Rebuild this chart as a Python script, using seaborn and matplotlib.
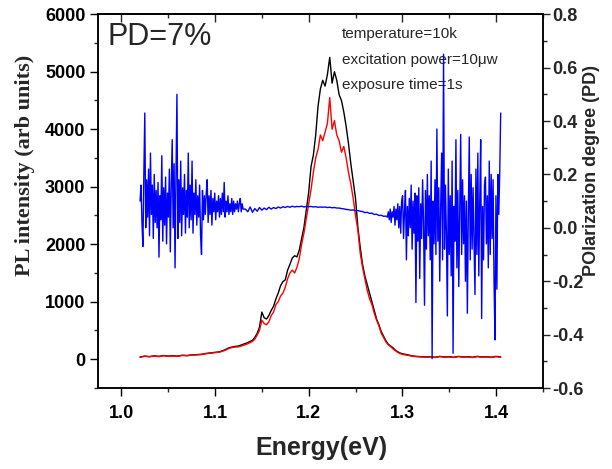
import numpy as np
import pandas as pd
import seaborn as sns
import matplotlib
matplotlib.use("Agg")
import matplotlib.pyplot as plt
from matplotlib.ticker import MultipleLocator

# PL spectra (black = total, red = one polarization)
pl_energy = [1.020, 1.025, 1.030, 1.035, 1.040, 1.045, 1.050, 1.055, 1.060, 1.065,
             1.070, 1.075, 1.080, 1.085, 1.090, 1.095, 1.100, 1.105, 1.110, 1.115,
             1.120, 1.125, 1.130, 1.135,
             1.1400, 1.1425, 1.1450, 1.1475, 1.1500, 1.1525, 1.1550, 1.1575, 1.1600, 1.1625,
             1.1650, 1.1675, 1.1700, 1.1725, 1.1750, 1.1775, 1.1800, 1.1825, 1.1850, 1.1875,
             1.1900, 1.1925, 1.1950, 1.1975, 1.2000, 1.2025, 1.2050, 1.2075, 1.2100, 1.2125,
             1.2150, 1.2175, 1.2200, 1.2225, 1.2250, 1.2275, 1.2300, 1.2325, 1.2350, 1.2375,
             1.2400, 1.2425, 1.2450, 1.2475, 1.2500, 1.2525, 1.2550, 1.2575, 1.2600, 1.2625,
             1.2650, 1.2675, 1.2700, 1.2725, 1.2750, 1.2775, 1.2800, 1.2825, 1.2850, 1.2875,
             1.2900, 1.2925, 1.2950, 1.2975, 1.3000,
             1.305, 1.310, 1.315, 1.320, 1.325, 1.330, 1.335, 1.340, 1.345, 1.350,
             1.355, 1.360, 1.365, 1.370, 1.375, 1.380, 1.385, 1.390, 1.395, 1.400, 1.405]

pl_black = [40, 55, 45, 60, 50, 65, 55, 60, 55, 70,
            65, 75, 80, 85, 100, 110, 120, 130, 160, 200,
            220, 230, 260, 290,
            330, 380, 450, 560, 820, 720, 700, 760, 850, 920,
            1050, 1150, 1280, 1350, 1380, 1550, 1650, 1760, 1800, 1780,
            1900, 2100, 2300, 2600, 2900, 3350, 3550, 3900, 4400, 4700,
            4850, 4750, 4950, 5250, 4800, 5000, 4850, 4600, 4500, 4300,
            4050, 3750, 3400, 3100, 2800, 2300, 1950, 1650, 1450, 1300,
            1150, 1000, 850, 700, 600, 480, 400, 320, 260, 230,
            200, 160, 130, 110, 95,
            80, 60, 50, 45, 40, 45, 35, 50, 40, 45,
            35, 50, 40, 45, 35, 50, 40, 45, 35, 50, 40]

pl_red = [35, 50, 45, 55, 45, 60, 50, 55, 50, 65,
          60, 70, 75, 80, 95, 105, 115, 125, 150, 190,
          210, 215, 240, 270,
          310, 350, 420, 500, 680, 620, 600, 650, 760, 820,
          950, 1000, 1100, 1150, 1250, 1400, 1500, 1550, 1500, 1600,
          1750, 2000, 2200, 2450, 2700, 2950, 3250, 3500, 3650, 3900,
          3800, 3950, 4100, 4550, 4000, 4150, 3900, 3800, 3600, 3700,
          3500, 3250, 3050, 2800, 2500, 2250, 1850, 1600, 1400, 1200,
          1050, 950, 800, 680, 580, 450, 380, 300, 250, 220,
          180, 150, 120, 100, 85,
          70, 55, 45, 40, 35, 40, 30, 45, 35, 40,
          30, 45, 35, 40, 30, 45, 35, 40, 30, 45, 35]

# polarization degree, noisy low-energy part (1.020 .. 1.130 eV)
pd_left = [0.10, 0.16, 0.02, -0.07, 0.20, 0.43, 0.00, 0.18, 0.04, 0.22,
           -0.03, 0.28, 0.05, 0.16, -0.04, 0.20, 0.02, 0.14, 0.00, 0.17,
           -0.11, 0.12, 0.03, 0.27, -0.05, 0.15, 0.01, 0.19, -0.06, 0.13,
           0.04, 0.22, -0.09, 0.16, 0.33, 0.00, 0.24, -0.15, 0.20, 0.50,
           -0.04, 0.18, 0.02, 0.25, -0.03, 0.15, 0.05, 0.20, -0.02, 0.14,
           0.04, 0.28, 0.00, 0.16, 0.03, 0.25, -0.02, 0.13, 0.05, 0.18,
           0.01, 0.12, 0.04, 0.16, -0.03, -0.10, 0.14, 0.03, 0.12, 0.05,
           0.13, 0.18, 0.02, 0.12, 0.05, 0.14, 0.01, 0.11, 0.06, 0.13,
           0.03, 0.10, 0.06, 0.12, 0.04, 0.11, 0.05, 0.13, 0.06, 0.17,
           0.04, 0.10, 0.06, 0.12, 0.05, 0.09, 0.06, 0.11, 0.05, 0.10,
           0.06, 0.09, 0.07, 0.10, 0.06, 0.09, 0.11, 0.06, 0.09, 0.07]

# quiet middle part (1.1325 .. 1.2825 eV)
pd_mid = [0.070, 0.060, 0.078, 0.058, 0.072, 0.062, 0.076, 0.066, 0.074, 0.068,
          0.077, 0.070, 0.076, 0.072, 0.078, 0.074, 0.079, 0.076, 0.080, 0.077,
          0.081, 0.078, 0.080, 0.079, 0.081, 0.078, 0.080, 0.079, 0.080, 0.078,
          0.079, 0.077, 0.078, 0.077, 0.078, 0.076, 0.077, 0.075, 0.076, 0.074,
          0.074, 0.072, 0.071, 0.069, 0.068, 0.066, 0.067, 0.064, 0.065, 0.062,
          0.061, 0.057, 0.058, 0.054, 0.055, 0.050, 0.051, 0.046, 0.047, 0.043, 0.044]

# noisy high-energy part (1.284 .. 1.405 eV)
pd_right = [0.04, 0.06, 0.03, 0.07, 0.02, 0.06, 0.04, 0.08, 0.01, 0.07,
            0.03, 0.09, 0.00, 0.08, -0.02, 0.10, 0.12, -0.04, 0.06, 0.14,
            -0.12, 0.08, -0.03, 0.11, 0.00, 0.16, -0.08, 0.10, -0.02, 0.13,
            -0.28, 0.12, -0.05, 0.15, -0.19, 0.09, -0.04, 0.18, 0.02, -0.29,
            0.14, -0.08, 0.20, -0.03, 0.12, -0.12, 0.25, -0.49, 0.10, -0.06,
            0.18, -0.10, 0.37, -0.05, 0.15, -0.20, 0.08, 0.28, -0.12, 0.65,
            -0.08, 0.16, -0.02, -0.33, 0.22, -0.10, 0.12, -0.18, 0.25, -0.47,
            0.08, -0.05, 0.33, -0.15, 0.14, -0.22, 0.06, 0.35, -0.10, 0.18,
            -0.06, 0.12, -0.20, 0.10, -0.32, 0.05, 0.34, -0.12, 0.20, -0.08,
            0.15, -0.04, -0.25, 0.22, -0.10, 0.28, -0.18, 0.10, 0.33, -0.34,
            0.08, -0.12, 0.16, 0.19, -0.06, 0.12, -0.15, 0.25, -0.10, 0.20,
            -0.04, 0.18, -0.20, -0.42, 0.12, -0.23, 0.20, 0.05, 0.21, 0.43]

pd_values = pd_left + pd_mid + pd_right
pd_energy = np.concatenate([np.linspace(1.020, 1.130, len(pd_left)),
                            np.linspace(1.1325, 1.2825, len(pd_mid)),
                            np.linspace(1.284, 1.405, len(pd_right))])

spec = pd.DataFrame({"Energy": pl_energy, "Black": pl_black, "Red": pl_red})
pol = pd.DataFrame({"Energy": pd_energy, "PD": pd_values})

sns.set_style("ticks")
plt.rcParams["font.family"] = ["Liberation Sans", "DejaVu Sans"]

fig = plt.figure(figsize=(6.12, 4.69), dpi=100)
ax = fig.add_axes([0.160, 0.1727, 0.727, 0.797])

sns.lineplot(data=spec, x="Energy", y="Black", color="black", lw=1.0, estimator=None, sort=False, ax=ax)
sns.lineplot(data=spec, x="Energy", y="Red", color="#ff0000", lw=1.0, estimator=None, sort=False, ax=ax)

ax2 = ax.twinx()
sns.lineplot(data=pol, x="Energy", y="PD", color="#0000ff", lw=1.0, estimator=None, sort=False, ax=ax2)

ax.set_xlim(0.975, 1.45)
ax.set_ylim(-500, 6000)
ax2.set_ylim(-0.6, 0.8)

ax.xaxis.set_minor_locator(MultipleLocator(0.05))
ax.yaxis.set_minor_locator(MultipleLocator(500))
ax.set_yticks(range(0, 6001, 1000))
ax2.yaxis.set_minor_locator(MultipleLocator(0.1))
ax.set_xticks([1.0, 1.1, 1.2, 1.3, 1.4])
ax.set_xticklabels(["1.0", "1.1", "1.2", "1.3", "1.4"])
ax2.set_yticks([-0.6, -0.4, -0.2, 0.0, 0.2, 0.4, 0.6, 0.8])
ax2.set_yticklabels(["-0.6", "-0.4", "-0.2", "0.0", "0.2", "0.4", "0.6", "0.8"])

for a in (ax, ax2):
    for s in a.spines.values():
        s.set_visible(True)
        s.set_linewidth(1.1)
        s.set_color("black")

ax.tick_params(axis="both", which="major", direction="out", length=6, width=1.0,
               labelsize=13, pad=3, colors="black")
ax.tick_params(axis="both", which="minor", direction="out", length=3, width=1.0)
ax.tick_params(axis="x", which="major", pad=6)
ax2.tick_params(axis="y", which="major", direction="out", length=5, width=1.0,
                labelsize=13, pad=2)
ax2.tick_params(axis="y", which="minor", direction="out", length=3, width=1.0)
for lab in ax.get_xticklabels() + ax.get_yticklabels() + ax2.get_yticklabels():
    lab.set_fontweight("bold")

# inward ticks on the top edge
top = ax.secondary_xaxis("top")
top.xaxis.set_major_locator(MultipleLocator(0.1))
top.xaxis.set_minor_locator(MultipleLocator(0.05))
top.tick_params(which="major", direction="in", length=6, width=1.0, labeltop=False)
top.tick_params(which="minor", direction="in", length=3, width=1.0)
top.spines["top"].set_linewidth(1.1)

ax.set_xlabel("")
ax.set_ylabel("")
ax2.set_ylabel("")

fig.text(321 / 612, 1 - 455 / 469, "Energy(eV)", fontsize=18, fontweight="bold",
         ha="center", va="baseline")
fig.text(25 / 612, 1 - 165 / 469, "PL intensity (arb units)", fontsize=16, fontweight="bold",
         family=["Liberation Serif", "DejaVu Serif"], rotation=90, ha="center", va="center")
fig.text(592 / 612, 1 - 170 / 469, "POlarization degree (PD)", fontsize=13, fontweight="bold",
         rotation=90, ha="center", va="center")

ax.text(0.022, 0.939, "PD=7%", transform=ax.transAxes, fontsize=22, ha="left", va="center")
ax.text(0.548, 0.947, "temperature=10k", transform=ax.transAxes, fontsize=11, ha="left", va="center")
ax.text(0.548, 0.877, "excitation power=10\u03bcw", transform=ax.transAxes, fontsize=11, ha="left", va="center")
ax.text(0.548, 0.811, "exposure time=1s", transform=ax.transAxes, fontsize=11, ha="left", va="center")

fig.savefig("out.png", dpi=100)
